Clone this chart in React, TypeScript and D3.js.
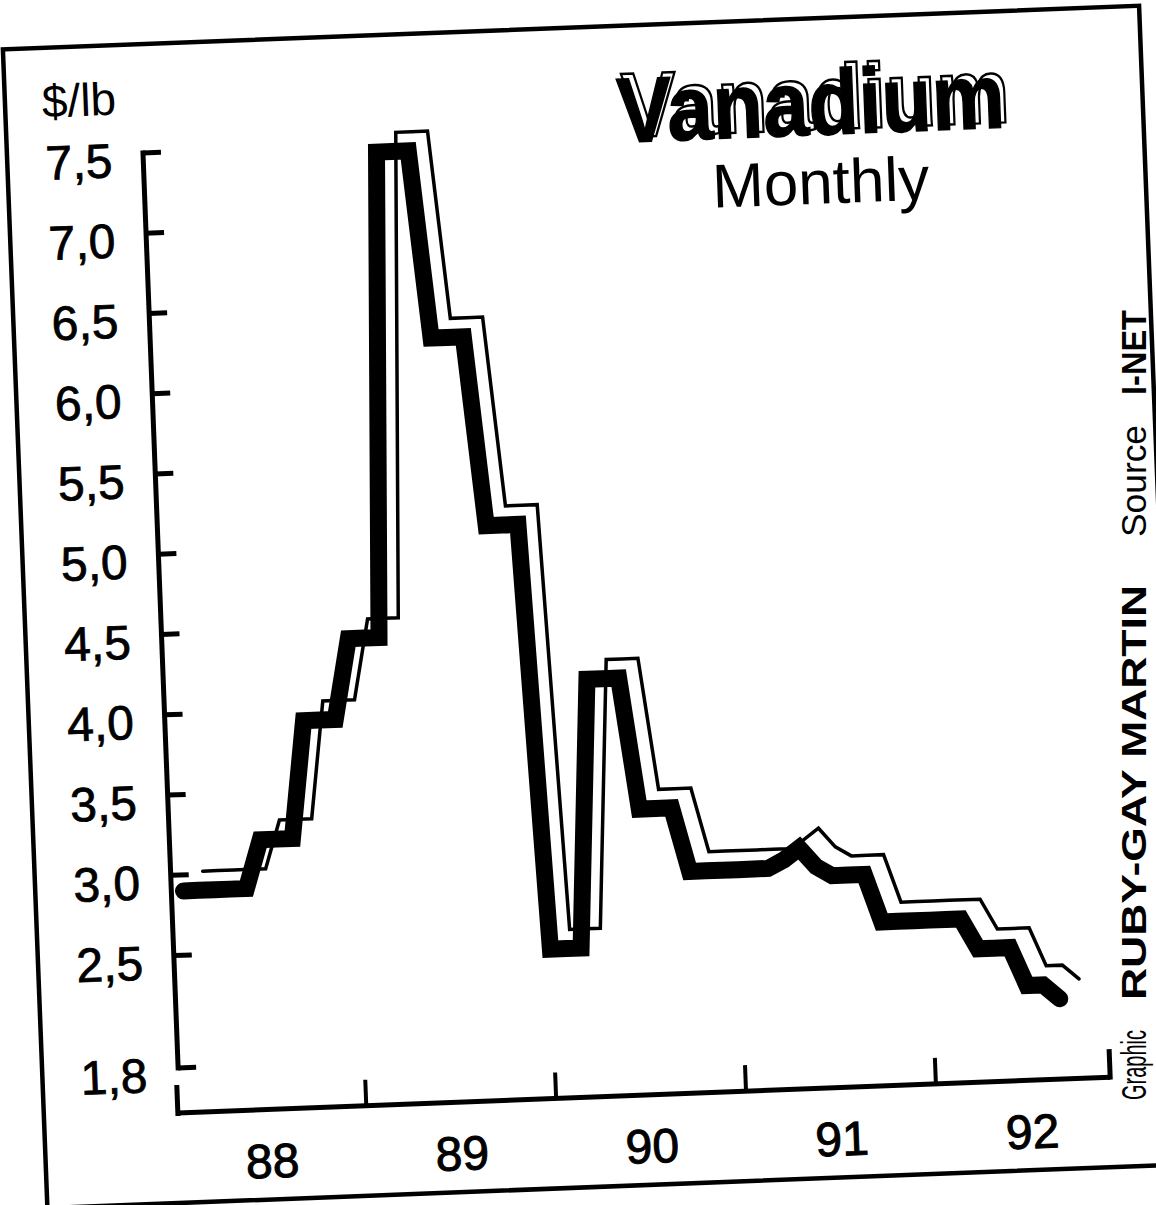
import React from 'react';
import * as d3 from 'd3';

// ---- data ----
const firstMonth = new Date(1988, 1, 1); // first plotted month: Feb 1988
const prices: number[] = [
  2.9, 2.9, 2.9, 2.9, 2.9,        // Feb-Jun 88
  3.2, 3.2, 3.2,                  // Jul-Sep 88
  3.93, 3.93, 3.93,               // Oct-Dec 88
  4.43, 4.43, 4.43,               // Jan-Mar 89
  7.45, 7.45, 7.45,               // Apr-Jun 89
  6.28, 6.28, 6.28,               // Jul-Sep 89
  5.1, 5.1, 5.1,                  // Oct-Dec 89
  2.45, 2.45, 2.45,               // Jan-Mar 90
  4.12, 4.12, 4.12,               // Apr-Jun 90
  3.3, 3.3, 3.3,                  // Jul-Sep 90
  2.9, 2.9, 2.9, 2.9, 2.9, 2.9,   // Oct 90-Mar 91
  2.95, 3.02, 2.9,                // Apr-Jun 91
  2.84, 2.84, 2.84,               // Jul-Sep 91
  2.54, 2.54, 2.54, 2.54, 2.54, 2.54, // Oct 91-Mar 92
  2.35, 2.35, 2.35,               // Apr-Jun 92
  2.11, 2.11,                     // Jul-Aug 92
  2.02,                           // Sep 92
];
const yTickValues = [1.8, 2.5, 3.0, 3.5, 4.0, 4.5, 5.0, 5.5, 6.0, 6.5, 7.0, 7.5];
const yearBoundaries = [1989, 1990, 1991, 1992];
const yearLabels = ['88', '89', '90', '91', '92'];
const labelYears = [1988, 1989, 1990, 1991, 1992];
const titleText = 'Vanadium';
const subtitleText = 'Monthly';
const unitText = '$/lb';
const creditParts = [
  { text: 'Graphic', bold: false },
  { text: 'RUBY-GAY MARTIN', bold: true },
  { text: 'Source', bold: false },
  { text: 'I-NET', bold: true },
];

const FONT = "'Liberation Sans', Arial, Helvetica, sans-serif";

type Pt = { date: Date; v: number };

export default function App() {
  const W = 1156;
  const H = 1205;
  const x = d3
    .scaleTime()
    .domain([new Date(1988, 0, 1), new Date(1992, 11, 1)])
    .range([133, 1068]);
  const y = d3.scaleLinear().domain([1.8, 7.5]).range([1074, 158.4]);

  const data: Pt[] = prices.map((v, i) => ({ date: d3.timeMonth.offset(firstMonth, i), v }));
  const line = d3
    .line<Pt>()
    .x((d) => x(d.date))
    .y((d) => y(d.v));
  const path = line(data) || '';

  const fmt = (v: number) => v.toFixed(1).replace('.', ',');
  const axisX = 137;
  const axisY = 1119;
  const xStart = x.range()[0] + 2;
  const xEnd = x.range()[1];

  // credit layout in page coordinates (bottom start of each vertical text, length)
  const creditLayout = [
    { start: 1100, len: 70 },
    { start: 1000, len: 415 },
    { start: 537, len: 112 },
    { start: 395, len: 85 },
  ];

  return (
    <svg
      width={W}
      height={H}
      style={{ position: 'absolute', left: 0, top: 0, background: '#fff' }}
    >
      <rect x={0} y={0} width={W} height={H} fill="#fff" />
      <g transform="rotate(-2.2)">
        {/* frame */}
        <rect x={1} y={49.5} width={1137} height={1159.5} fill="none" stroke="#000" strokeWidth={4.5} />

        {/* unit */}
        <text x={38} y={119} fontFamily={FONT} fontSize={46} fill="#000">
          {unitText}
        </text>

        {/* title */}
        <text
          x={806}
          y={166}
          textAnchor="middle"
          fontFamily={FONT}
          fontWeight="bold"
          fontSize={92}
          fill="#fff"
          stroke="#000"
          strokeWidth={2.5}
          textLength={388}
          lengthAdjust="spacingAndGlyphs"
          transform="translate(5,-5)"
        >
          {titleText}
        </text>
        <text
          x={806}
          y={166}
          textAnchor="middle"
          fontFamily={FONT}
          fontWeight="bold"
          fontSize={92}
          fill="#000"
          stroke="#000"
          strokeWidth={1.5}
          textLength={388}
          lengthAdjust="spacingAndGlyphs"
        >
          {titleText}
        </text>
        <text x={813} y={235} textAnchor="middle" fontFamily={FONT} fontSize={62} fill="#000">
          {subtitleText}
        </text>

        {/* y axis */}
        <line x1={axisX} x2={axisX} y1={y(7.5) - 2.5} y2={y(1.8) + 2.5} stroke="#000" strokeWidth={5} />
        {yTickValues.map((v) => (
          <g key={v}>
            <line x1={axisX} x2={axisX + 18} y1={y(v)} y2={y(v)} stroke="#000" strokeWidth={5} />
            <text
              x={106}
              y={y(v) + 23}
              textAnchor="end"
              fontFamily={FONT}
              fontSize={48}
              fill="#000"
              stroke="#000"
              strokeWidth={0.8}
            >
              {fmt(v)}
            </text>
          </g>
        ))}

        {/* x axis */}
        <line x1={xStart} x2={xEnd} y1={axisY} y2={axisY} stroke="#000" strokeWidth={5} />
        <line x1={xStart} x2={xStart} y1={axisY + 3} y2={axisY - 28} stroke="#000" strokeWidth={5} />
        <line x1={xEnd} x2={xEnd} y1={axisY + 2.5} y2={axisY - 28} stroke="#000" strokeWidth={5} />
        {yearBoundaries.map((yr) => {
          const px = x(new Date(yr, 0, 1));
          return <line key={yr} x1={px} x2={px} y1={axisY} y2={axisY - 26} stroke="#000" strokeWidth={4} />;
        })}
        {yearLabels.map((lab, i) => {
          const px = x(new Date(labelYears[i], 6, 1));
          return (
            <text
              key={lab}
              x={px}
              y={1187}
              textAnchor="middle"
              fontFamily={FONT}
              fontSize={48}
              fill="#000"
              stroke="#000"
              strokeWidth={1}
            >
              {lab}
            </text>
          );
        })}

        {/* shadow line */}
        <path
          d={path}
          transform="translate(20,-19)"
          fill="none"
          stroke="#000"
          strokeWidth={3.5}
          strokeLinejoin="miter"
          strokeLinecap="round"
        />
        {/* main line */}
        <path
          d={path}
          fill="none"
          stroke="#000"
          strokeWidth={17}
          strokeLinejoin="miter"
          strokeMiterlimit={3}
          strokeLinecap="round"
        />
      </g>

      {/* credit, vertical along the right edge */}
      {creditParts.map((p, i) => (
        <text
          key={p.text}
          transform={`translate(1146,${creditLayout[i].start}) rotate(-90)`}
          fontFamily={FONT}
          fontWeight={p.bold ? 'bold' : 'normal'}
          fontSize={35}
          fill="#000"
          textLength={creditLayout[i].len}
          lengthAdjust="spacingAndGlyphs"
        >
          {p.text}
        </text>
      ))}
    </svg>
  );
}
